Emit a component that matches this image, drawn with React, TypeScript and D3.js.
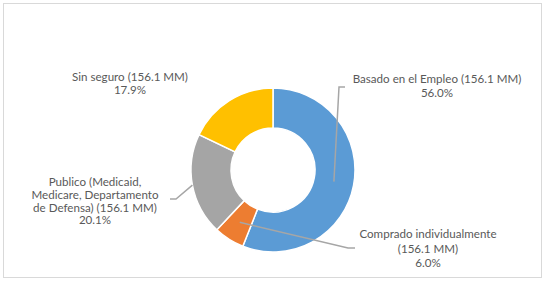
import React from "react";
import * as d3 from "d3";

const categories = [
  "Basado en el Empleo",
  "Comprado individualmente",
  "Publico (Medicaid, Medicare, Departamento de Defensa)",
  "Sin seguro",
];
const shares = [56.0, 6.0, 20.1, 17.9];
const amounts = ["156.1 MM", "156.1 MM", "156.1 MM", "156.1 MM"];
const colors = ["#5B9BD5", "#ED7D31", "#A5A5A5", "#FFC000"];

// label text lines (wrapped as in the reference)
const labelLines = [
  ["Basado en el Empleo (156.1 MM)", "56.0%"],
  ["Comprado individualmente", "(156.1 MM)", "6.0%"],
  ["Publico (Medicaid,", "Medicare, Departamento", "de Defensa) (156.1 MM)", "20.1%"],
  ["Sin seguro (156.1 MM)", "17.9%"],
];

const W = 548;
const H = 282;
const cx = 273;
const cy = 170;
const outerR = 82;
const innerR = 42;

// layout of labels: center x, first baseline y, line height, leader
const labelLayout = [
  { x: 437, y: 83, lh: 14, leader: "centroid", elbow: [[345, 87], [339, 87]] },
  { x: 428, y: 238, lh: 14.5, leader: "centroid", elbow: [[355, 248], [348, 248]] },
  { x: 95, y: 186, lh: 12.8, leader: "outer", elbow: [[170, 199], [176, 199]] },
  { x: 130, y: 81, lh: 13, leader: null, elbow: [] },
];

export default function App() {
  const pie = d3
    .pie<number>()
    .sort(null)
    .value((d) => d)(shares);
  const arc = d3.arc<d3.PieArcDatum<number>>().innerRadius(innerR).outerRadius(outerR);
  const outerArc = d3.arc<d3.PieArcDatum<number>>().innerRadius(outerR).outerRadius(outerR);

  return (
    <svg
      width={W}
      height={H}
      style={{ position: "fixed", left: 0, top: 0 }}
      fontFamily="Lato, 'Noto Sans', sans-serif"
    >
      <rect x={0} y={0} width={W} height={H} fill="#ffffff" />
      <rect x={3.5} y={3.5} width={538} height={274} fill="none" stroke="#d9d9d9" strokeWidth={1} />
      <g transform={`translate(${cx},${cy})`}>
        {pie.map((p, i) => (
          <path key={categories[i]} d={arc(p) || ""} fill={colors[i]} stroke="#ffffff" strokeWidth={1.5} />
        ))}
      </g>
      {pie.map((p, i) => {
        const L = labelLayout[i];
        if (!L.leader) return null;
        const c = L.leader === "centroid" ? arc.centroid(p) : outerArc.centroid(p);
        const pts = [...L.elbow, [c[0] + cx, c[1] + cy]] as [number, number][];
        return (
          <path
            key={"l" + i}
            d={d3.line()(pts) || ""}
            fill="none"
            stroke="#A6A6A6"
            strokeWidth={1.5}
          />
        );
      })}
      {labelLines.map((lines, i) => {
        const L = labelLayout[i];
        return (
          <text key={"t" + i} x={L.x} y={L.y} textAnchor="middle" fontSize={11.6} fill="#595959">
            {lines.map((s, j) => (
              <tspan key={j} x={L.x} y={L.y + j * L.lh}>
                {s}
              </tspan>
            ))}
          </text>
        );
      })}
    </svg>
  );
}
